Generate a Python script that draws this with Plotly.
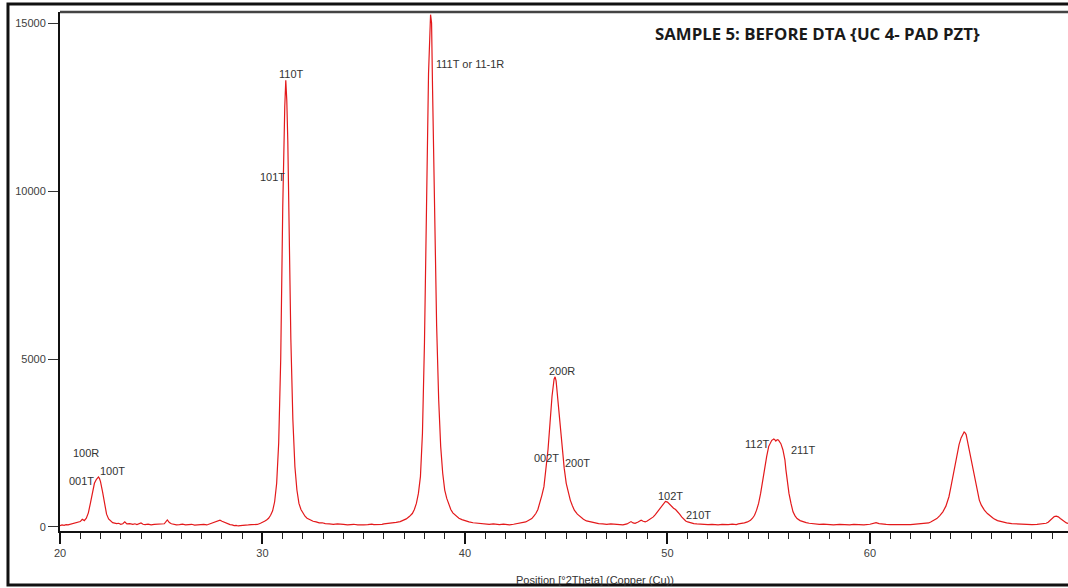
import plotly.graph_objects as go

# XRD scan: diffraction angle (°2θ) and measured intensity (counts)
two_theta = [
    20.0, 20.1, 20.2, 20.3, 20.4, 20.5, 20.6, 20.7, 20.8, 20.9, 21.0, 21.1, 21.2, 21.3, 21.4,
    21.5, 21.6, 21.7, 21.8, 21.85, 21.9, 21.95, 22.0, 22.1, 22.2, 22.3, 22.4, 22.5, 22.6, 22.7,
    22.8, 22.9, 23.0, 23.1, 23.2, 23.3, 23.45, 23.6, 23.7, 23.8, 23.9, 24.0, 24.1, 24.2, 24.35,
    24.5, 24.65, 24.8, 24.9, 25.0, 25.15, 25.3, 25.4, 25.5, 25.6, 25.75, 25.9, 26.05, 26.2, 26.35,
    26.5, 26.65, 26.8, 26.95, 27.1, 27.25, 27.4, 27.55, 27.7, 27.8, 27.9, 28.0, 28.1, 28.2, 28.3,
    28.4, 28.5, 28.6, 28.7, 28.8, 28.9, 29.0, 29.15, 29.3, 29.45, 29.6, 29.75, 29.9, 30.0, 30.1,
    30.2, 30.3, 30.4, 30.5, 30.6, 30.7, 30.8, 30.9, 31.0, 31.05, 31.1, 31.15, 31.2, 31.25, 31.3,
    31.4, 31.5, 31.6, 31.7, 31.8, 31.9, 32.0, 32.1, 32.2, 32.35, 32.5, 32.65, 32.8, 32.95, 33.1,
    33.3, 33.5, 33.7, 33.9, 34.0, 34.2, 34.4, 34.5, 34.7, 34.9, 35.0, 35.2, 35.4, 35.5, 35.7,
    35.9, 36.0, 36.2, 36.4, 36.6, 36.8, 36.95, 37.1, 37.25, 37.4, 37.5, 37.6, 37.7, 37.8, 37.9,
    38.0, 38.1, 38.2, 38.3, 38.35, 38.4, 38.5, 38.6, 38.7, 38.8, 38.9, 39.0, 39.1, 39.2, 39.3,
    39.4, 39.55, 39.7, 39.85, 40.0, 40.2, 40.4, 40.5, 40.7, 40.9, 41.0, 41.2, 41.4, 41.5, 41.7,
    41.9, 42.0, 42.2, 42.4, 42.5, 42.7, 42.9, 43.0, 43.15, 43.3, 43.4, 43.5, 43.6, 43.7, 43.8,
    43.9, 44.0, 44.1, 44.2, 44.3, 44.4, 44.45, 44.5, 44.6, 44.7, 44.8, 44.9, 45.0, 45.1, 45.2,
    45.3, 45.4, 45.55, 45.7, 45.85, 46.0, 46.2, 46.4, 46.6, 46.8, 47.0, 47.2, 47.4, 47.6, 47.8,
    48.0, 48.1, 48.2, 48.3, 48.4, 48.55, 48.7, 48.8, 48.9, 49.0, 49.1, 49.2, 49.3, 49.4, 49.5,
    49.6, 49.7, 49.8, 49.9, 50.0, 50.1, 50.2, 50.3, 50.4, 50.5, 50.6, 50.7, 50.8, 50.9, 51.0,
    51.15, 51.3, 51.45, 51.6, 51.8, 52.0, 52.2, 52.4, 52.5, 52.7, 52.9, 53.0, 53.2, 53.4, 53.5,
    53.65, 53.8, 53.95, 54.1, 54.2, 54.3, 54.4, 54.5, 54.6, 54.7, 54.8, 54.9, 55.0, 55.05, 55.1,
    55.15, 55.2, 55.25, 55.3, 55.35, 55.4, 55.45, 55.5, 55.55, 55.6, 55.7, 55.8, 55.85, 55.9, 56.0,
    56.1, 56.2, 56.3, 56.4, 56.55, 56.7, 56.85, 57.0, 57.2, 57.5, 57.7, 58.0, 58.2, 58.5, 58.7,
    59.0, 59.2, 59.5, 59.7, 60.0, 60.15, 60.3, 60.45, 60.6, 60.8, 61.0, 61.2, 61.5, 61.7, 62.0,
    62.2, 62.5, 62.7, 62.9, 63.0, 63.15, 63.3, 63.45, 63.6, 63.75, 63.9, 64.0, 64.1, 64.2, 64.3,
    64.4, 64.5, 64.6, 64.65, 64.7, 64.75, 64.8, 64.9, 65.0, 65.1, 65.2, 65.3, 65.4, 65.5, 65.65,
    65.8, 65.95, 66.1, 66.3, 66.5, 66.75, 67.0, 67.25, 67.5, 67.75, 68.0, 68.25, 68.5, 68.7, 68.8,
    68.9, 69.0, 69.1, 69.2, 69.3, 69.4, 69.5, 69.6, 69.7, 69.8,
]
intensity = [
    40, 60, 50, 70, 60, 75, 80, 95, 110, 130, 160, 230, 190, 260, 420,
    700, 1050, 1300, 1420, 1450, 1490, 1440, 1350, 1050, 650, 380, 240, 170, 130, 115,
    100, 110, 80, 95, 150, 90, 100, 80, 95, 70, 85, 120, 80, 70, 85,
    60, 75, 80, 65, 70, 95, 210, 130, 95, 80, 60, 70, 85, 60, 70,
    80, 55, 60, 80, 75, 60, 90, 110, 140, 175, 200, 170, 140, 110, 95,
    70, 60, 40, 45, 30, 40, 50, 45, 60, 70, 80, 75, 110, 130, 170,
    210, 260, 350, 480, 750, 1300, 2500, 5000, 9500, 11200, 12500, 13300, 12700, 11500, 9000,
    5600, 3200, 1800, 1100, 700, 520, 400, 320, 260, 210, 170, 150, 120, 125, 100,
    90, 80, 95, 70, 75, 60, 80, 80, 60, 75, 60, 70, 85, 70, 65,
    80, 90, 100, 120, 135, 160, 200, 240, 310, 400, 520, 700, 1000, 1500, 2800,
    5500, 9500, 13500, 15250, 15000, 13000, 9500, 6000, 3800, 2400, 1600, 1100, 850, 650, 520,
    420, 330, 260, 220, 180, 150, 125, 120, 110, 95, 90, 75, 90, 80, 70,
    85, 70, 60, 80, 90, 110, 120, 150, 200, 250, 320, 400, 520, 700, 950,
    1200, 1700, 2300, 3100, 3900, 4400, 4470, 4350, 3700, 2900, 2200, 1750, 1300, 1000, 800,
    640, 500, 380, 300, 230, 180, 150, 120, 100, 90, 80, 95, 80, 70, 60,
    90, 120, 160, 120, 110, 150, 200, 170, 150, 180, 220, 250, 300, 370, 450,
    540, 620, 700, 760, 740, 680, 600, 560, 520, 460, 380, 300, 230, 180, 150,
    120, 100, 90, 80, 75, 70, 80, 60, 60, 75, 60, 70, 85, 70, 90,
    100, 120, 150, 200, 260, 350, 500, 700, 1000, 1400, 1800, 2100, 2400, 2480, 2550,
    2580, 2600, 2620, 2600, 2560, 2590, 2600, 2570, 2530, 2480, 2300, 2000, 1700, 1400, 1000,
    700, 450, 330, 250, 190, 150, 130, 110, 90, 80, 85, 70, 60, 80, 70,
    60, 75, 70, 60, 80, 95, 130, 100, 80, 75, 70, 65, 60, 70, 70,
    80, 90, 100, 120, 150, 190, 250, 340, 450, 620, 900, 1200, 1500, 1850, 2200,
    2450, 2650, 2780, 2830, 2800, 2750, 2600, 2300, 1950, 1600, 1300, 1000, 800, 650, 500,
    400, 310, 250, 190, 150, 120, 100, 90, 80, 75, 70, 80, 90, 110, 140,
    200, 260, 310, 320, 300, 250, 200, 150, 120, 100,
]

# Reflection labels (hkl, T = tetragonal, R = rhombohedral)
peak_labels = ["100R", "001T", "100T", "110T", "101T", "111T or 11-1R",
               "200R", "002T", "200T", "102T", "210T", "112T", "211T"]
label_x = [21.28, 21.04, 22.57, 31.41, 30.47, 40.25,
           44.79, 44.05, 45.58, 50.17, 51.51, 54.47, 56.74]
label_y = [2200, 1370, 1670, 13480, 10420, 13780,
           4640, 2050, 1900, 920, 360, 2470, 2290]

title_text = "SAMPLE 5: BEFORE DTA {UC 4- PAD PZT}"
x_title = "Position [°2Theta] (Copper (Cu))"
y_ticks = [0, 5000, 10000, 15000]

fig = go.Figure()
fig.add_trace(go.Scatter(
    x=two_theta, y=intensity, mode="lines",
    line=dict(color="#e3191b", width=1.2),
    showlegend=False, hoverinfo="skip",
))

annotations = []
for t, lx, ly in zip(peak_labels, label_x, label_y):
    annotations.append(dict(
        x=lx, y=ly, xref="x", yref="y", text=t, showarrow=False,
        xanchor="center", yanchor="middle",
        font=dict(family="Liberation Sans, Arial", size=11, color="#333333"),
    ))

annotations.append(dict(
    x=0.751, y=0.9595, xref="paper", yref="paper", text="<b>" + title_text + "</b>",
    showarrow=False, xanchor="center", yanchor="middle",
    font=dict(family="Open Sans", size=16.8, color="#1a1a1a"),
))
annotations.append(dict(
    x=0.531, y=-0.094, xref="paper", yref="paper", text=x_title,
    showarrow=False, xanchor="center", yanchor="middle",
    font=dict(family="Liberation Sans, Arial", size=11, color="#333333"),
))

fig.update_layout(
    width=1068, height=588,
    margin=dict(l=60, r=0, t=12, b=57),
    paper_bgcolor="white", plot_bgcolor="white",
    font=dict(family="Liberation Sans, Arial", size=11, color="#404040"),
    annotations=annotations,
    shapes=[
        # outer frame around the whole figure
        dict(type="rect", xref="paper", yref="paper",
             x0=-0.0516, x1=1.05, y0=-0.104, y1=1.0154,
             line=dict(color="#111111", width=3), layer="above"),
        # top edge of the plotting area
        dict(type="line", xref="paper", yref="paper",
             x0=0, x1=1.05, y0=1, y1=1,
             line=dict(color="#444444", width=2.5), layer="above"),
    ],
)

fig.update_xaxes(
    range=[20, 69.78], showgrid=False, zeroline=False,
    showline=True, linecolor="#111111", linewidth=2,
    ticks="outside", ticklen=11, tickwidth=1.5, tickcolor="#111111",
    tick0=20, dtick=10,
    minor=dict(ticks="outside", ticklen=6, tickwidth=1.2, tickcolor="#222222", dtick=1),
    tickfont=dict(size=11, color="#404040"),
)
fig.update_yaxes(
    range=[-120, 15330], showgrid=False, zeroline=False,
    showline=True, linecolor="#111111", linewidth=2,
    ticks="outside", ticklen=10, tickwidth=1.2, tickcolor="#333333",
    tickvals=y_ticks, ticktext=[str(v) for v in y_ticks],
    tickfont=dict(size=11, color="#404040"),
)

fig.write_html("out.html")
